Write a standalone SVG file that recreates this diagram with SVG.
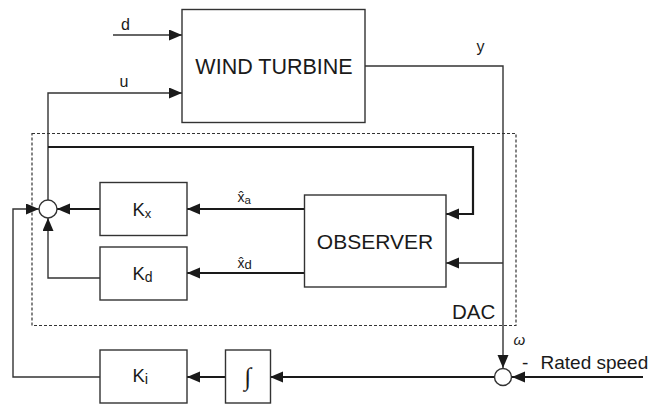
<svg xmlns="http://www.w3.org/2000/svg" width="649" height="406" viewBox="0 0 649 406">
<style>
.box{fill:#fff;stroke:#333;stroke-width:1.4}
.thin{fill:none;stroke:#333;stroke-width:1.4}
.thick{fill:none;stroke:#1a1a1a;stroke-width:2.2}
.t{font-family:"Liberation Sans",Arial,sans-serif;fill:#1a1a1a}
.sum{fill:#fff;stroke:#333;stroke-width:1.4}
</style>
<defs>
<marker id="ah" markerUnits="userSpaceOnUse" markerWidth="14" markerHeight="12" refX="13" refY="5.5" orient="auto">
<path d="M0,0 L13,5.5 L0,11 Z" fill="#1a1a1a"/>
</marker>
</defs>
<rect x="32" y="133.5" width="484" height="192" fill="none" stroke="#333" stroke-width="1.2" stroke-dasharray="3,2"/>
<g id="connectors">
<path class="thin" d="M113,35 H182" marker-end="url(#ah)"/>
<path class="thin" d="M48,200 V93 H182" marker-end="url(#ah)"/>
<path class="thick" d="M48,147 H473 V214 H446" marker-end="url(#ah)"/>
<path class="thin" d="M365,66 H503 V368" marker-end="url(#ah)"/>
<path class="thin" d="M503,263 H446" marker-end="url(#ah)"/>
<path class="thick" d="M304,209 H187" marker-end="url(#ah)"/>
<path class="thick" d="M304,273 H187" marker-end="url(#ah)"/>
<path class="thick" d="M100,209 H57" marker-end="url(#ah)"/>
<path class="thin" d="M100,278 H48 V218" marker-end="url(#ah)"/>
<path class="thin" d="M100,377 H13 V209 H39" marker-end="url(#ah)"/>
<path class="thick" d="M225,377 H187" marker-end="url(#ah)"/>
<path class="thick" d="M494.5,377 H270" marker-end="url(#ah)"/>
<path class="thick" d="M643,377 H512" marker-end="url(#ah)"/>
</g>
<g id="wind-turbine">
<rect class="box" x="182" y="9.5" width="183" height="113"/>
<text class="t" x="274" y="74" font-size="21.5" text-anchor="middle">WIND TURBINE</text>
</g>
<g id="observer">
<rect class="box" x="304.5" y="195" width="141.5" height="92"/>
<text class="t" x="375" y="249" font-size="21" text-anchor="middle">OBSERVER</text>
</g>
<g id="kx">
<rect class="box" x="100" y="182.5" width="87" height="53"/>
<text class="t" x="132.5" y="215.5" font-size="18.5">K<tspan font-size="13" dy="2.5">x</tspan></text>
</g>
<g id="kd">
<rect class="box" x="100" y="247" width="87" height="53"/>
<text class="t" x="132.5" y="280" font-size="18.5">K<tspan font-size="14" dy="2">d</tspan></text>
</g>
<g id="ki">
<rect class="box" x="100" y="350" width="87" height="53"/>
<text class="t" x="132.5" y="382" font-size="18.5">K<tspan font-size="15" dy="2">i</tspan></text>
</g>
<g id="integral">
<rect class="box" x="225.5" y="350" width="45" height="53"/>
<text x="248" y="385" font-size="25" text-anchor="middle" font-style="italic" font-family="'Liberation Serif',serif" fill="#1a1a1a">∫</text>
</g>
<g id="sum1">
<circle class="sum" cx="48" cy="209" r="9"/>
</g>
<g id="sum2">
<circle class="sum" cx="503" cy="377" r="8.5"/>
</g>
<g id="labels">
<text class="t" x="121" y="30" font-size="16">d</text>
<text class="t" x="119.5" y="87" font-size="16">u</text>
<text class="t" x="476.5" y="51.5" font-size="16">y</text>
<text class="t" x="237.5" y="201.5" font-size="14">x̂<tspan font-size="11.5" dy="2">a</tspan></text>
<text class="t" x="237.5" y="267.5" font-size="14">x̂<tspan font-size="13" dy="1">d</tspan></text>
<text class="t" x="452" y="319" font-size="20.5">DAC</text>
<text class="t" x="513.5" y="345" font-size="15" font-style="italic">ω</text>
<text class="t" x="522" y="369" font-size="19">-</text>
<text class="t" x="540.5" y="368.5" font-size="19">Rated speed</text>
</g>
</svg>
